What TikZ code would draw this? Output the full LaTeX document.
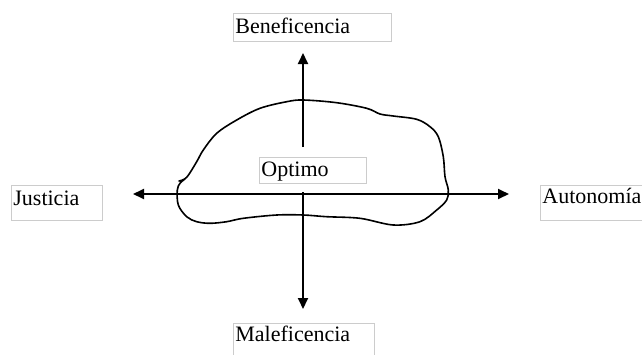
\documentclass[tikz,border=0pt]{standalone}
\usepackage{fontspec}
\setmainfont{Liberation Serif}
\usetikzlibrary{arrows.meta}
\begin{document}
\begin{tikzpicture}[x=1pt,y=-1pt,
  lbl/.style={draw=black!20, line width=0.8pt, inner xsep=2pt, inner ysep=0pt, anchor=north west, align=left, font=\fontsize{22}{24}\selectfont},
  axis/.style={line width=1.8pt, -{Triangle[length=11pt,width=10pt]}},
  blob/.style={line width=1.6pt, line join=round, line cap=round}]
\clip (0,0) rectangle (642,354);
\fill[white] (0,0) rectangle (642,354);
% labels
\node[lbl, text width=154pt, text height=20pt, text depth=8pt] (ben) at (233,13) {Beneficencia};
\node[lbl, text width=87pt, text height=20pt, text depth=15pt] (jus) at (11,185) {Justicia};
\node[lbl, text width=126pt, text height=18pt, text depth=17pt] (aut) at (540,185) {Autonomía};
\node[lbl, text width=137pt, text height=18pt, text depth=16pt] (mal) at (233,323) {Maleficencia};
\node[lbl, text width=103pt, text height=19pt, text depth=7pt] (opt) at (259,157) {Optimo};
% axes
\coordinate (cen) at (303,194);
\coordinate (upS) at (303,147);
\coordinate (upE) at (303,53);
\coordinate (dnS) at (303,192);
\coordinate (dnE) at (303,309);
\coordinate (lfE) at (133,194);
\coordinate (rtE) at (509,194);
\draw[axis] (cen) -- (lfE);
\draw[axis] (cen) -- (rtE);
\draw[axis] (upS) -- (upE);
\draw[axis] (dnS) -- (dnE);
% hand-drawn blob
\draw[blob] plot[smooth, tension=0.55] coordinates {
 (179,181) (186.7,177.3) (196.7,161.7) (203.3,150) (216.7,133.3) (236.7,120) (260,108.3)
 (286.7,101.7) (303.3,100) (336.7,102.7) (366.7,108.3) (380,114) (393.3,116)
 (416.7,119.3) (430,126.7) (438.3,136.7) (443.3,156.7) (445,176.7) (448.3,190)
 (446.7,200) (436.7,210) (420,221.7) (393.3,225) (360,218.3) (326.7,216.7)
 (303.3,215) (276.7,215) (243.3,218.3) (226.7,221.7) (210,223.3) (196.7,221.7)
 (186.7,216.7) (178.3,205) (177.3,190) (180,183.3) (185,179)};
\end{tikzpicture}
\end{document}
